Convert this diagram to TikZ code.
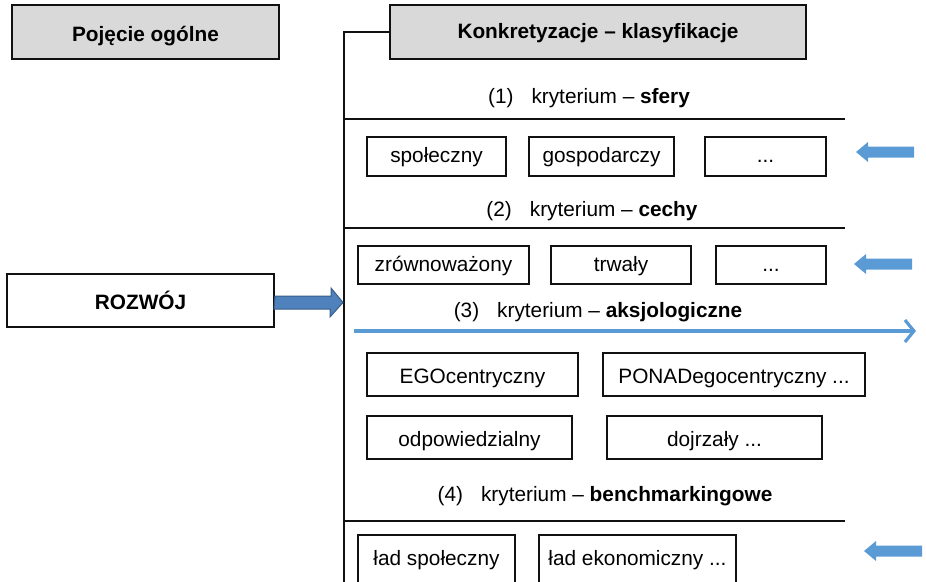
\documentclass[tikz,border=0pt]{standalone}
\usepackage{fontspec}
\setmainfont{Liberation Sans}
\usetikzlibrary{arrows.meta}
\definecolor{headgray}{HTML}{D9D9D9}
\definecolor{arrowblue}{HTML}{5B9BD5}
\definecolor{mainblue}{HTML}{4F81BD}
\definecolor{mainblueedge}{HTML}{385D8A}
\definecolor{edgeblack}{HTML}{111111}
% left-pointing block arrow: tip at (#1,#2)
\newcommand\blockarrowleft[2]{%
  \fill[arrowblue] (#1,#2) -- ++(12,-10) -- ++(0,4.5) -- ++(46,0) -- ++(0,11)
    -- ++(-46,0) -- ++(0,4.5) -- cycle;}
\begin{document}
\begin{tikzpicture}[x=1pt,y=-1pt,
  font=\fontsize{20.8}{24}\selectfont,
  box/.style={draw=edgeblack, line width=2pt, inner sep=0pt,
    text height=15pt, text depth=2pt, align=center},
  th/.style={text height=#1pt},
  headbox/.style={box, fill=headgray, font=\fontsize{20.8}{24}\selectfont\bfseries},
  crit/.style={anchor=base, inner sep=0pt},
  rule/.style={draw=edgeblack, line width=2.3pt}]
\clip (0,0) rectangle (926,581);

% headers
\node[headbox, th=20, minimum width=267, minimum height=54] (pojecie) at (145.5,32) {Pojęcie ogólne};
\node[headbox, th=15, minimum width=416, minimum height=54] (konkret) at (598,32) {Konkretyzacje – klasyfikacje};

% general concept
\node[box, th=19, font=\fontsize{20.8}{24}\selectfont\bfseries, minimum width=267, minimum height=53] (rozwoj) at (140.5,300.5) {ROZWÓJ};

% frame of the classification column
\coordinate (vtop) at (344,32);
\coordinate (vbot) at (344,600);
\draw[rule] (konkret.west) -- (vtop) -- (vbot);

% criterion 1
\node[crit] (k1) at (589,103) {(1)\hspace{18pt}kryterium – \textbf{sfery}};
\coordinate (s1l) at (344,119); \coordinate (s1r) at (845,119);
\draw[rule] (s1l) -- (s1r);
\node[box, th=13.5, minimum width=139, minimum height=39] (spol) at (436.5,156.5) {społeczny};
\node[box, th=13.5, minimum width=145, minimum height=39] (gosp) at (601.5,156.5) {gospodarczy};
\node[box, th=13.5, minimum width=121, minimum height=39] (dots1) at (765.5,156.5) {...};
\blockarrowleft{856}{152}

% criterion 2
\node[crit] (k2) at (592,216) {(2)\hspace{18pt}kryterium – \textbf{cechy}};
\coordinate (s2l) at (344,228); \coordinate (s2r) at (845,228);
\draw[rule] (s2l) -- (s2r);
\node[box, th=15.5, minimum width=171, minimum height=38] (zrown) at (443.5,265) {zrównoważony};
\node[box, th=15.5, minimum width=140, minimum height=38] (trwaly) at (621,265) {trwały};
\node[box, th=15.5, minimum width=110, minimum height=38] (dots2) at (771,265) {...};
\blockarrowleft{854}{264}

% main arrow into the column
\fill[mainblue, draw=mainblueedge, line width=1pt]
  (rozwoj.east) ++(0,-4.5) -- ++(56,0) -- ++(0,-8) -- (343,302.5)
  -- (330,317) -- ++(0,-8) -- ++(-56,0) -- cycle;

% criterion 3
\node[crit] (k3) at (598,317) {(3)\hspace{18pt}kryterium – \textbf{aksjologiczne}};
\coordinate (b3l) at (354,331); \coordinate (b3r) at (916,331);
\draw[arrowblue, line width=3.2pt, -{Straight Barb[length=9pt,width=22pt]}] (b3l) -- (b3r);
\node[box, th=20, minimum width=211, minimum height=43] (ego) at (472.5,374.5) {EGOcentryczny};
\node[box, th=20, minimum width=262, minimum height=43] (ponad) at (734,374.5) {PONADegocentryczny ...};
\node[box, th=19, minimum width=205, minimum height=43] (odp) at (469.5,437.5) {odpowiedzialny};
\node[box, th=19, minimum width=215, minimum height=43] (dojrz) at (714.5,437.5) {dojrzały ...};

% criterion 4
\node[crit] (k4) at (605,501) {(4)\hspace{18pt}kryterium – \textbf{benchmarkingowe}};
\coordinate (s4l) at (344,521); \coordinate (s4r) at (845,521);
\draw[rule] (s4l) -- (s4r);
\node[box, th=14, minimum width=157, minimum height=48] (ladsp) at (436.5,559) {ład społeczny};
\node[box, th=14, minimum width=197, minimum height=48] (ladek) at (637.5,559) {ład ekonomiczny ...};
\blockarrowleft{864}{551}
\end{tikzpicture}
\end{document}
